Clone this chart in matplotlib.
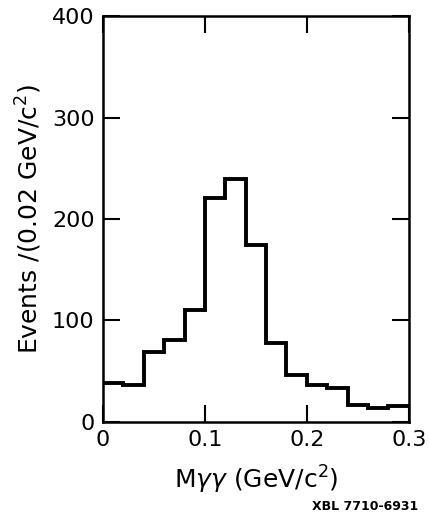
#!/usr/bin/env python3
# M(gamma gamma) spectrum, 0.02 GeV/c^2 bins
import matplotlib.pyplot as plt
import numpy as np

bin_edges = np.round(np.arange(0.0, 0.3001, 0.02), 2)
counts = [38, 36, 69, 81, 110, 221, 239, 174, 78, 46, 36, 33, 17, 14, 16]
xticks = [0, 0.1, 0.2, 0.3]
xticklabels = ["0", "0.1", "0.2", "0.3"]
yticks = [0, 100, 200, 300, 400]

plt.rcParams["font.family"] = "DejaVu Sans"

fig = plt.figure(figsize=(4.29, 5.19), dpi=100)
ax = fig.add_axes([0.240, 0.187, 0.713, 0.782])

ax.stairs(counts, bin_edges, color="black", linewidth=2.8, baseline=None)

ax.set_xlim(0, 0.3)
ax.set_ylim(0, 400)
ax.set_xticks(xticks)
ax.set_xticklabels(xticklabels)
ax.set_yticks(yticks)
ax.tick_params(direction="in", length=12, width=1.5, labelsize=16,
               top=True, right=True, pad=6)
for s in ax.spines.values():
    s.set_linewidth(1.8)

ax.set_xlabel(r"M$\gamma\gamma$ (GeV/c$^2$)", fontsize=18, labelpad=10)
ax.set_ylabel(r"Events /(0.02 GeV/c$^2$)", fontsize=18, labelpad=6)

fig.text(0.975, 0.012, "XBL 7710-6931", ha="right", va="bottom",
         fontsize=9, fontweight="bold")

fig.savefig("out.png", dpi=100)
